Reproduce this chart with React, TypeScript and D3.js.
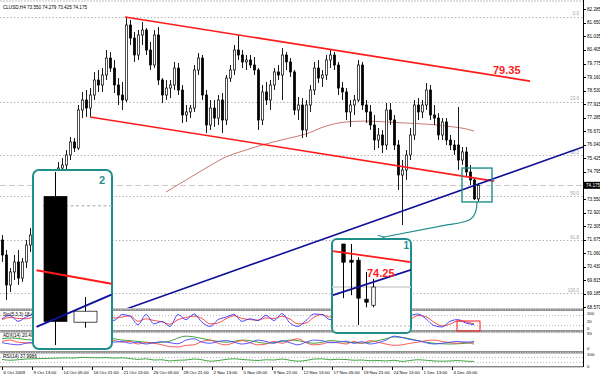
import React, { useEffect } from 'react';
import * as d3 from 'd3';

const headerText = 'CLUSD,H4  73.550 74.279 73.425 74.175';

// [open, high, low, close]  H4 candles (every other bar shown)
const candles: [number, number, number, number][] = [
  [71.66, 71.89, 70.65, 70.97], [70.97, 71.20, 68.90, 69.59], [69.59, 70.37, 69.27, 70.19], [70.19, 70.97, 69.82, 70.65],
  [70.65, 71.20, 69.59, 69.91], [69.91, 70.83, 69.73, 70.65], [70.65, 71.66, 70.37, 71.43], [71.43, 72.21, 71.11, 71.89],
  [71.89, 72.58, 71.57, 72.35], [72.35, 73.27, 72.03, 72.95], [72.95, 73.50, 72.58, 73.27], [73.27, 73.96, 72.95, 73.59],
  [73.59, 74.33, 73.27, 74.05], [74.05, 74.65, 73.73, 74.42], [74.42, 75.25, 74.14, 74.97], [74.97, 75.43, 74.65, 75.11],
  [75.11, 75.80, 74.79, 75.57], [75.57, 76.40, 75.34, 76.17], [76.17, 76.35, 75.71, 75.89], [75.89, 77.87, 75.80, 77.64],
  [77.64, 78.47, 77.27, 78.10], [78.10, 78.56, 77.32, 77.73], [77.73, 78.65, 77.32, 78.33], [78.33, 79.39, 78.10, 79.02],
  [79.02, 79.48, 78.47, 78.79], [78.79, 79.57, 78.47, 79.25], [79.25, 80.40, 79.02, 80.03], [80.03, 80.31, 79.39, 79.57],
  [79.57, 79.94, 78.42, 78.79], [78.79, 79.11, 77.87, 78.33], [78.33, 78.93, 77.64, 78.10], [78.10, 81.92, 78.01, 81.55],
  [81.55, 81.78, 80.63, 80.95], [80.95, 81.23, 79.85, 80.17], [80.17, 81.32, 79.94, 81.09], [81.09, 81.69, 80.63, 81.32],
  [81.32, 81.41, 80.17, 80.40], [80.40, 80.77, 79.48, 79.71], [79.71, 81.32, 79.57, 81.09], [81.09, 81.46, 78.79, 79.02],
  [79.02, 79.11, 77.96, 78.33], [78.33, 79.02, 78.10, 78.65], [78.65, 79.02, 78.19, 78.79], [78.79, 79.85, 78.56, 79.57],
  [79.57, 79.80, 78.33, 78.56], [78.56, 78.79, 77.04, 77.41], [77.41, 77.87, 77.09, 77.55], [77.55, 77.87, 77.27, 77.73],
  [77.73, 79.71, 77.55, 79.48], [79.48, 80.26, 79.25, 80.03], [80.03, 80.17, 78.10, 78.33], [78.33, 78.56, 76.58, 76.95],
  [76.95, 78.10, 76.72, 77.73], [77.73, 78.10, 76.86, 77.27], [77.27, 78.33, 76.95, 78.10], [78.10, 78.42, 76.58, 77.18],
  [77.18, 79.25, 76.95, 79.11], [79.11, 79.71, 78.93, 79.48], [79.48, 80.63, 79.25, 80.40], [80.40, 81.09, 79.94, 80.17],
  [80.17, 80.40, 79.57, 79.85], [79.85, 80.17, 79.48, 79.94], [79.94, 80.17, 79.57, 79.71], [79.71, 80.08, 79.25, 79.48],
  [79.48, 79.57, 76.72, 77.18], [77.18, 78.79, 76.95, 78.47], [78.47, 78.93, 77.87, 78.10], [78.10, 79.02, 77.64, 78.79],
  [78.79, 79.57, 78.56, 79.39], [79.39, 79.71, 79.02, 79.25], [79.25, 80.49, 78.10, 80.17], [80.17, 80.31, 79.48, 79.85],
  [79.85, 80.03, 79.16, 79.39], [79.39, 79.48, 77.41, 77.64], [77.64, 78.24, 77.18, 77.87], [77.87, 78.19, 76.35, 76.72],
  [76.72, 78.10, 76.40, 77.87], [77.87, 78.79, 77.55, 78.56], [78.56, 79.85, 78.33, 79.57], [79.57, 79.94, 78.88, 79.11],
  [79.11, 79.48, 78.70, 79.25], [79.25, 80.17, 79.02, 79.94], [79.94, 80.40, 79.57, 80.17], [80.17, 80.31, 79.48, 79.71],
  [79.71, 79.85, 78.33, 78.65], [78.65, 78.93, 78.10, 78.47], [78.47, 78.65, 77.18, 77.55], [77.55, 78.10, 76.86, 77.87],
  [77.87, 78.33, 77.41, 78.10], [78.10, 79.94, 78.01, 79.71], [79.71, 79.85, 77.64, 77.87], [77.87, 78.10, 77.04, 77.55],
  [77.55, 77.87, 76.72, 76.95], [76.95, 77.41, 75.80, 76.26], [76.26, 76.81, 75.89, 76.49], [76.49, 76.72, 75.66, 76.03],
  [76.03, 77.96, 75.80, 77.64], [77.64, 77.96, 76.95, 77.18], [77.18, 77.41, 75.80, 76.03], [76.03, 76.26, 73.96, 74.65],
  [74.65, 75.34, 72.35, 74.88], [74.88, 75.80, 74.42, 75.57], [75.57, 76.81, 75.34, 76.49], [76.49, 78.10, 76.26, 77.87],
  [77.87, 78.19, 77.18, 77.55], [77.55, 78.10, 77.27, 77.87], [77.87, 78.88, 77.64, 78.56], [78.56, 78.79, 77.18, 77.41],
  [77.41, 77.87, 76.95, 77.27], [77.27, 77.50, 76.26, 76.49], [76.49, 77.27, 76.26, 77.09], [77.09, 77.27, 76.03, 76.26],
  [76.26, 76.49, 75.80, 76.03], [76.03, 76.26, 75.57, 75.80], [76.03, 77.78, 74.88, 75.34], [75.34, 75.94, 75.11, 75.71],
  [75.71, 75.94, 74.56, 74.79], [74.79, 75.11, 74.19, 74.42], [74.42, 74.51, 73.50, 73.55], [73.55, 74.279, 73.425, 74.175],
];

const maIndex = [41, 46, 51, 56, 61, 66, 71, 76, 81, 86, 91, 96, 101, 106, 111, 116, 118];
const maValues = [73.87, 74.42, 74.97, 75.48, 75.80, 76.08, 76.31, 76.54, 76.90, 77.09, 77.13, 77.09, 77.04, 76.99, 76.90, 76.77, 76.67];

const priceTicks = [82.285, 81.65, 81.035, 80.405, 79.775, 79.16, 78.53, 77.915, 77.285, 76.67, 76.04, 75.425, 74.795,
  73.55, 72.92, 72.305, 71.675, 71.06, 70.43, 69.815, 69.185, 68.57];
const lastPrice = 74.175;

const fibLevels = [81.92, 78.01, 75.57, 73.68, 71.66, 69.22];
const fibLabels = ['0.0', '23.6', '38.2', '50.0', '61.8', '100.0'];

const upperChannel: [number, number][] = [[30.75, 81.92], [132, 78.97]];
const lowerChannel: [number, number][] = [[22, 77.32], [123, 74.37]];
const blueTrend: [number, number][] = [[31.25, 68.5], [145.25, 75.94]];

const dateLabels = ['6 Oct 2009', '9 Oct 13:00', '14 Oct 05:00', '16 Oct 21:00', '21 Oct 13:00', '26 Oct 05:00',
  '28 Oct 21:00', '2 Nov 13:00', '5 Nov 05:00', '9 Nov 21:00', '12 Nov 13:00', '17 Nov 05:00', '19 Nov 21:00',
  '24 Nov 13:00', '1 Dec 13:00', '4 Dec 05:00'];

const stochMain = [60, 80, 45, 70, 85, 75, 88, 70, 80, 60, 90, 80, 85, 75, 50, 85, 75, 25, 85, 30,
  45, 15, 85, 55, 88, 40, 15, 55, 70, 85, 45, 60, 50, 80, 50, 90, 35, 15, 50, 88,
  85, 55, 80, 70, 40, 75, 30, 60, 45, 70, 20, 75, 88, 60, 20, 12, 45, 55, 35, 25];
const stochSignal = [55, 68, 62, 60, 72, 80, 82, 78, 76, 70, 78, 82, 85, 80, 65, 70, 78, 45, 60, 50,
  42, 28, 55, 68, 75, 62, 30, 35, 60, 78, 62, 55, 52, 65, 62, 75, 58, 30, 35, 70,
  85, 70, 72, 72, 55, 60, 45, 48, 50, 58, 40, 55, 80, 72, 40, 18, 28, 48, 42, 30];
const adxMain = [35, 38, 36, 32, 30, 28, 30, 33, 36, 38, 40, 42, 40, 38, 35, 30, 28, 25, 22, 20,
  22, 26, 38, 45, 42, 36, 30, 25, 22, 25, 30, 28, 22, 18, 20, 25, 30, 28, 22, 18,
  22, 28, 26, 22, 20, 18, 22, 28, 35, 42, 40, 35, 28, 22, 18, 16, 15, 16, 18, 20];
const plusDI = [20, 15, 12, 18, 22, 25, 28, 26, 24, 28, 32, 30, 28, 26, 22, 25, 18, 22, 15, 20,
  24, 20, 16, 30, 35, 22, 18, 25, 28, 22, 15, 20, 30, 25, 18, 28, 20, 12, 22, 30,
  28, 20, 22, 26, 18, 24, 15, 20, 30, 45, 40, 32, 28, 20, 15, 18, 22, 25, 22, 25];
const minusDI = [25, 30, 22, 20, 18, 15, 12, 16, 18, 14, 10, 12, 15, 20, 28, 22, 25, 15, 20, 18,
  12, 5, 4, 10, 12, 25, 30, 18, 12, 20, 28, 20, 12, 15, 25, 18, 28, 35, 20, 12,
  15, 22, 20, 15, 25, 18, 28, 22, 15, 10, 12, 18, 22, 28, 30, 25, 20, 18, 22, 14];
const rsiValues = [55, 48, 52, 58, 60, 62, 64, 66, 68, 66, 72, 70, 68, 70, 66, 68, 62, 55, 60, 50,
  52, 42, 48, 50, 58, 52, 40, 45, 55, 60, 54, 50, 46, 52, 50, 58, 48, 40, 46, 58,
  60, 52, 56, 54, 48, 50, 44, 46, 42, 48, 38, 46, 52, 48, 42, 40, 42, 45, 40, 38];

const stochAxis = ['100', '20', '0'];
const adxAxis = ['55', '0'];
const rsiAxis = ['100', '0'];

// zoom insets
const inset1Candles: [number, number, number, number][] = [
  [75.0, 75.0, 73.93, 74.64], [74.68, 75.0, 73.99, 74.64], [74.68, 74.74, 73.40, 73.93],
  [73.91, 74.45, 73.75, 73.85], [73.79, 74.31, 73.75, 74.15],
];
const inset1Red: [number, number][] = [[-1.33, 74.86], [9.07, 74.64]];
const inset1Blue: [number, number][] = [[-1.33, 73.99], [9.07, 74.49]];
const inset1Label = '74.25';
const inset2Candles: [number, number, number, number][] = [
  [74.69, 75.0, 72.8, 73.1], [73.09, 73.41, 73.02, 73.23],
];
const inset2Red: [number, number][] = [[-0.6, 73.75], [1.9, 73.58]];
const inset2Blue: [number, number][] = [[-0.6, 73.03], [1.9, 73.44]];
const channelLabel = '79.35';

const FONT = 'Liberation Sans, Arial, sans-serif';
const TEAL = '#1f8f8c';

export default function App() {
  useEffect(() => { document.body.style.margin = '0'; }, []);

  const x = d3.scaleLinear().domain([0, 145.25]).range([2, 583]);
  const y = d3.scaleLinear().domain([82.7, 68.9]).range([0, 300]);
  const stY = d3.scaleLinear().domain([0, 100]).range([329, 312]);
  const adY = d3.scaleLinear().domain([0, 55]).range([348, 333.5]);
  const rsY = d3.scaleLinear().domain([0, 100]).range([366, 354]);

  const segLine = (pts: [number, number][], sx: any, sy: any) =>
    d3.line<[number, number]>().x(d => sx(d[0])).y(d => sy(d[1]))(pts) as string;
  const osc = (vals: number[], sy: any) =>
    d3.line<number>().x((_, k) => x(2 * k)).y(d => sy(d)).curve(d3.curveMonotoneX)(vals) as string;
  const maPath = d3.line<number>().x((_, k) => x(maIndex[k])).y(d => y(d)).curve(d3.curveMonotoneX)(maValues) as string;

  const renderCandles = (data: [number, number, number, number][], sx: any, sy: any, bw: number, keyp: string, sw: number) =>
    data.map((c, i) => {
      const [o, h, l, cl] = c;
      const cx = Math.round(sx(i)) + 0.5;
      const top = sy(Math.max(o, cl));
      const bot = sy(Math.min(o, cl));
      const bull = cl >= o;
      return (
        <g key={keyp + i}>
          <line x1={cx} x2={cx} y1={sy(h)} y2={sy(l)} stroke="#000" strokeWidth={sw} />
          <rect x={cx - bw / 2} y={top} width={bw} height={Math.max(1, bot - top)}
            fill={bull ? '#fff' : '#000'} stroke="#000" strokeWidth={0.7} />
        </g>
      );
    });

  // inset scales
  const i1x = d3.scaleLinear().domain([0, 4]).range([343, 373]);
  const i1y = d3.scaleLinear().domain([75.0, 73.4]).range([244, 325]);
  const i2x = d3.scaleLinear().domain([0, 1]).range([54.5, 84.5]);
  const i2y = d3.scaleLinear().domain([75.0, 72.8]).range([172, 345]);

  const sepBand = (yy: number, k: string) => (
    <g key={k}>
      <rect x={0} y={yy} width={583} height={2.5} fill="#8a8a8a" />
      <line x1={0} x2={583} y1={yy + 1.25} y2={yy + 1.25} stroke="#d8d8d8" strokeWidth={1} strokeDasharray="1,1.5" />
    </g>
  );

  const boxX0 = x(115), boxX1 = x(122.5), boxY0 = y(74.97), boxY1 = y(73.41);
  const stochAxisY = [314.5, 323, 330];

  return (
    <svg width={600} height={376} style={{ position: 'absolute', left: 0, top: 0, background: '#fff' }} fontFamily={FONT}>
      <defs>
        <clipPath id="mainClip"><rect x={0} y={2} width={583} height={306} /></clipPath>
        <clipPath id="stClip"><rect x={0} y={311.5} width={583} height={19} /></clipPath>
        <clipPath id="adClip"><rect x={0} y={332.5} width={583} height={18} /></clipPath>
        <clipPath id="rsClip"><rect x={0} y={353.5} width={583} height={13} /></clipPath>
        <clipPath id="in1Clip"><rect x={332} y={239} width={79} height={94} rx={5} /></clipPath>
        <clipPath id="in2Clip"><rect x={33} y={170} width={79} height={179} rx={6} /></clipPath>
        <marker id="arr" viewBox="0 0 10 10" refX={1} refY={5} markerWidth={6} markerHeight={6} orient="auto-start-reverse">
          <path d="M9,1 L1,5 L9,9" fill="none" stroke={TEAL} strokeWidth={1.6} />
        </marker>
      </defs>
      <rect x={0} y={0} width={600} height={376} fill="#fff" />
      <line x1={0} x2={583} y1={1} y2={1} stroke="#bdbdbd" strokeDasharray="2,1" />

      {/* main panel */}
      <g clipPath="url(#mainClip)">
        {fibLevels.map((f, i) => (
          <g key={'fib' + i}>
            <line x1={0} x2={583} y1={Math.round(y(f)) + 0.5} y2={Math.round(y(f)) + 0.5} stroke="#b4b4b4" strokeWidth={1} strokeDasharray="1.5,2" />
            <text x={579} y={y(f) - 1.5} fontSize={4.5} fill="#a0a0b0" textAnchor="end">{fibLabels[i]}</text>
          </g>
        ))}
        <line x1={0} x2={583} y1={Math.round(y(lastPrice)) + 0.5} y2={Math.round(y(lastPrice)) + 0.5} stroke="#c8c8c8" strokeWidth={1.2} strokeDasharray="6,3" />
        <path d={maPath} fill="none" stroke="#c87a72" strokeWidth={1} />
        {renderCandles(candles, x, y, 2.2, 'c', 0.9)}
        <path d={segLine(upperChannel, x, y)} stroke="#ff1a1a" strokeWidth={1.6} fill="none" />
        <path d={segLine(lowerChannel, x, y)} stroke="#ff1a1a" strokeWidth={1.6} fill="none" />
        <path d={segLine(blueTrend, x, y)} stroke="#10109a" strokeWidth={1.6} fill="none" />
        <text x={x(122.75)} y={y(79.3)} fontSize={11} fontWeight="bold" fill="#ff1a1a">{channelLabel}</text>
      </g>
      <text x={3} y={8.5} fontSize={4.6} fill="#000">{headerText}</text>

      {/* separators */}
      {sepBand(308.5, 's1')}
      {sepBand(330, 's2')}
      {sepBand(351, 's3')}
      <line x1={0} x2={583} y1={366.8} y2={366.8} stroke="#555" strokeWidth={1} />

      {/* stochastic */}
      <g clipPath="url(#stClip)">
        {[80, 20].map(v => (
          <line key={'sl' + v} x1={0} x2={583} y1={stY(v)} y2={stY(v)} stroke="#b8b8b8" strokeDasharray="1,2" />
        ))}
        <path d={osc(stochSignal, stY)} fill="none" stroke="#ff3b3b" strokeWidth={0.9} />
        <path d={osc(stochMain, stY)} fill="none" stroke="#3b3bff" strokeWidth={0.9} />
      </g>
      <text x={3} y={316} fontSize={4.6}>Sto(5,3,3) 18.4217 24.6519</text>
      <rect x={x(113.75)} y={321} width={23} height={10} fill="none" stroke="#ff1a1a" strokeWidth={1} />

      {/* ADX */}
      <g clipPath="url(#adClip)">
        <path d={osc(adxMain, adY)} fill="none" stroke="#2f9a2f" strokeWidth={0.9} />
        <path d={osc(minusDI, adY)} fill="none" stroke="#ff4a4a" strokeWidth={0.9} />
        <path d={osc(plusDI, adY)} fill="none" stroke="#4a4aff" strokeWidth={0.9} />
      </g>
      <text x={3} y={337} fontSize={4.6}>ADX(14) 20.4011 25.1274 14.3396</text>

      {/* RSI */}
      <g clipPath="url(#rsClip)">
        {[70, 30].map(v => (
          <line key={'rl' + v} x1={0} x2={583} y1={rsY(v)} y2={rsY(v)} stroke="#b8b8b8" strokeDasharray="1,2" />
        ))}
        <path d={osc(rsiValues, rsY)} fill="none" stroke="#2f9a2f" strokeWidth={0.9} />
      </g>
      <text x={3} y={357.5} fontSize={4.6}>RSI(14) 37.9986</text>

      {/* right axis */}
      <line x1={583.5} x2={583.5} y1={0} y2={367} stroke="#000" strokeWidth={1} />
      {priceTicks.map(t => (
        <g key={'pt' + t}>
          <line x1={583} x2={586} y1={Math.round(y(t)) + 0.5} y2={Math.round(y(t)) + 0.5} stroke="#000" />
          <text x={587} y={y(t) + 1.6} fontSize={4.6}>{t.toFixed(3)}</text>
        </g>
      ))}
      <rect x={584} y={y(lastPrice) - 3.5} width={16} height={7} fill="#000" />
      <text x={586} y={y(lastPrice) + 1.6} fontSize={4.6} fill="#fff">{lastPrice.toFixed(3)}</text>
      {stochAxis.map((v, k) => (
        <text key={'sv' + v} x={587} y={stochAxisY[k]} fontSize={4.2}>{v}</text>
      ))}
      {adxAxis.map(v => (
        <text key={'av' + v} x={587} y={adY(+v) + 1.8} fontSize={4.4}>{v}</text>
      ))}
      {rsiAxis.map(v => (
        <text key={'rv' + v} x={587} y={rsY(+v) + 1.8} fontSize={4.4}>{v}</text>
      ))}

      {/* date axis */}
      {dateLabels.map((d, k) => {
        const tx = x(k * 7.5);
        return (
          <g key={'d' + k}>
            <line x1={Math.round(tx) + 0.5} x2={Math.round(tx) + 0.5} y1={367} y2={370} stroke="#000" />
            <text x={tx + 1.5} y={374} fontSize={4.4}>{d}</text>
          </g>
        );
      })}

      {/* highlight box + arrow */}
      <rect x={boxX0} y={boxY0} width={boxX1 - boxX0} height={boxY1 - boxY0} fill="none" stroke={TEAL} strokeWidth={1.4} />
      <path d={`M${boxX0 + 15},${boxY1} C${boxX0 + 15},${boxY1 + 20} ${boxX0 + 5},${boxY1 + 20} ${boxX0 - 15},${boxY1 + 23} L384,237`}
        fill="none" stroke={TEAL} strokeWidth={1.2} markerEnd="url(#arr)" />

      {/* inset 1 */}
      <rect x={332} y={239} width={79} height={94} rx={5} fill="#fff" stroke={TEAL} strokeWidth={2} />
      <g clipPath="url(#in1Clip)">
        <line x1={332} x2={411} y1={i1y(74.15)} y2={i1y(74.15)} stroke="#d0d0d0" strokeWidth={1.5} />
        <line x1={332} x2={411} y1={i1y(73.38)} y2={i1y(73.38)} stroke="#b8b8b8" strokeDasharray="2,2" />
        {renderCandles(inset1Candles, i1x, i1y, 3.5, 'i1', 1)}
        <path d={segLine(inset1Red, i1x, i1y)} stroke="#ff1a1a" strokeWidth={1.8} fill="none" />
        <path d={segLine(inset1Blue, i1x, i1y)} stroke="#10109a" strokeWidth={1.8} fill="none" />
      </g>
      <text x={367} y={277} fontSize={11} fontWeight="bold" fill="#ff1a1a">{inset1Label}</text>
      <text x={403.5} y={249} fontSize={10} fontWeight="bold" fill={TEAL}>1</text>

      {/* inset 2 */}
      <rect x={33} y={170} width={79} height={179} rx={6} fill="#fff" stroke={TEAL} strokeWidth={2} />
      <g clipPath="url(#in2Clip)">
        <line x1={43} x2={112} y1={i2y(74.57)} y2={i2y(74.57)} stroke="#a8a8a8" strokeDasharray="3,2.5" />
        {renderCandles(inset2Candles, i2x, i2y, 23, 'i2', 1)}
        <path d={segLine(inset2Red, i2x, i2y)} stroke="#ff1a1a" strokeWidth={2} fill="none" />
        <path d={segLine(inset2Blue, i2x, i2y)} stroke="#10109a" strokeWidth={2} fill="none" />
      </g>
      <text x={99} y={184} fontSize={11} fontWeight="bold" fill={TEAL}>2</text>
    </svg>
  );
}
